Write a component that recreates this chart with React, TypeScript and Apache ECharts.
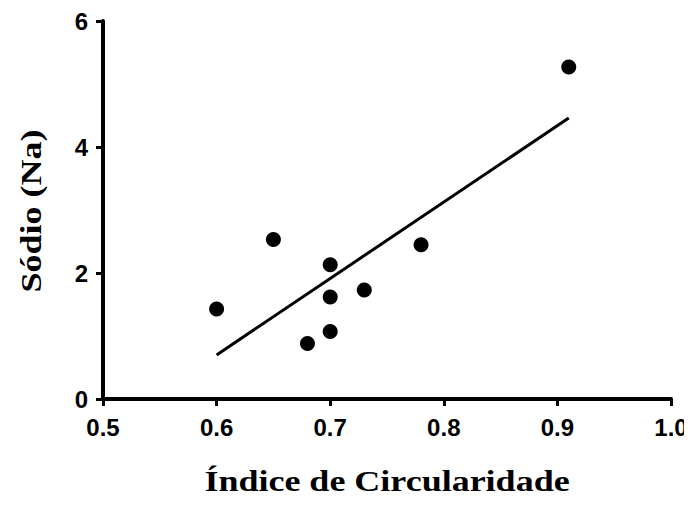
import React, { useEffect, useRef } from "react";
import * as echarts from "echarts";

const pointX = [0.6, 0.65, 0.68, 0.7, 0.7, 0.7, 0.73, 0.78, 0.91];
const pointY = [1.43, 2.53, 0.88, 2.13, 1.62, 1.07, 1.73, 2.45, 5.27];
const lineX = [0.6, 0.91];
const lineY = [0.7, 4.46];
const xTitle = "Índice de Circularidade";
const yTitle = "Sódio (Na)";

export default function App() {
  const ref = useRef<HTMLDivElement>(null);
  useEffect(() => {
    if (!ref.current) return;
    const chart = echarts.init(ref.current, undefined, { renderer: "svg" });
    const axisLine = { show: true, lineStyle: { color: "#000", width: 4 } };
    const axisTick = { show: true, inside: false, length: 7, lineStyle: { color: "#000", width: 3 } };
    const labelStyle = {
      color: "#000",
      fontFamily: "Liberation Sans, Arial, sans-serif",
      fontWeight: "bold" as const,
      fontSize: 24,
    };
    const titleFont = {
      fill: "#000",
      fontFamily: "Liberation Serif, Times New Roman, serif",
      fontWeight: "bold" as const,
      fontSize: 30,
    };
    chart.setOption({
      animation: false,
      grid: { left: 103, right: 21, top: 21, bottom: 108, containLabel: false },
      xAxis: {
        type: "value",
        min: 0.5,
        max: 1.0,
        interval: 0.1,
        axisLine,
        axisTick,
        splitLine: { show: false },
        axisLabel: { ...labelStyle, margin: 16, formatter: (v: number) => v.toFixed(1) },
      },
      yAxis: {
        type: "value",
        min: 0,
        max: 6,
        interval: 2,
        axisLine,
        axisTick,
        splitLine: { show: false },
        axisLabel: { ...labelStyle, margin: 15 },
      },
      graphic: [
        {
          type: "text",
          x: 387,
          y: 481,
          scaleX: 1.2,
          style: { ...titleFont, text: xTitle, align: "center", verticalAlign: "middle" },
        },
        {
          type: "text",
          x: 31,
          y: 211,
          rotation: Math.PI / 2,
          scaleX: 1.2,
          style: { ...titleFont, text: yTitle, align: "center", verticalAlign: "middle" },
        },
      ],
      series: [
        {
          type: "line",
          data: lineX.map((x, i) => [x, lineY[i]]),
          showSymbol: false,
          symbol: "none",
          lineStyle: { color: "#000", width: 3 },
          z: 2,
        },
        {
          type: "scatter",
          data: pointX.map((x, i) => [x, pointY[i]]),
          symbol: "circle",
          symbolSize: 15,
          itemStyle: { color: "#000", opacity: 1 },
          z: 3,
        },
      ],
    });
    return () => chart.dispose();
  }, []);
  return <div ref={ref} style={{ width: 692, height: 507, margin: -8 }} />;
}
